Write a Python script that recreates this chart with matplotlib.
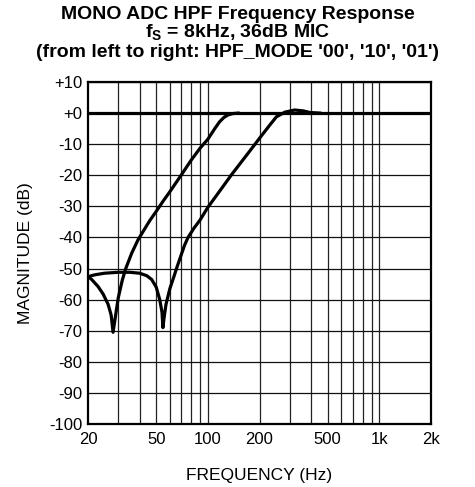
import matplotlib
matplotlib.use("Agg")
import matplotlib.pyplot as plt
from matplotlib.ticker import FixedLocator, NullFormatter

plt.rcParams['font.family'] = ['Liberation Sans', 'DejaVu Sans']
plt.rcParams['mathtext.fontset'] = 'custom'
plt.rcParams['mathtext.rm'] = 'Liberation Sans'
plt.rcParams['mathtext.bf'] = 'Liberation Sans:bold'

# HPF_MODE '00'
freq_00 = [20, 21, 22.9, 24.5, 26.2, 27.3, 28, 28.8, 30, 31.7, 33.2, 36, 39.2,
           45.8, 50, 54.7, 60, 70, 80, 90, 100, 105, 110, 117, 124, 131, 140, 150]
mag_00 = [-52.6, -53.5, -55.8, -58.2, -61.5, -65, -70.5, -66, -59.5, -53.7, -50, -45,
          -40.7, -34.6, -31.6, -28.4, -25.3, -19.9, -15.1, -11.3, -8.4, -6.6, -4.9, -2.8,
          -1.4, -0.6, -0.15, 0]
# HPF_MODE '10'
freq_10 = [20, 22, 25, 30, 35, 40, 44, 47, 50, 52.4, 54, 54.7, 55.5, 57, 60, 63.2,
           66, 70, 73, 76.6, 83, 90, 100, 120, 137, 170, 200, 230, 251, 281, 321,
           360, 393, 450]
mag_10 = [-52.6, -52.0, -51.5, -51.2, -51.2, -51.5, -52.3, -53.5, -56, -60, -64, -69,
          -66, -61.5, -56.5, -52.8, -49.6, -45.5, -42.6, -40, -37, -34.4, -30.3, -24.3,
          -19.9, -13.2, -8.1, -3.8, -1.2, 0.3, 1.0, 0.7, 0.2, 0]
# HPF_MODE '01' (flat)
freq_01 = [20, 2000]
mag_01 = [0, 0]

xticks = [20, 50, 100, 200, 500, 1000, 2000]
xticklabels = ['20', '50', '100', '200', '500', '1k', '2k']
yticks = [10, 0, -10, -20, -30, -40, -50, -60, -70, -80, -90, -100]
yticklabels = ['+10', '+0', '-10', '-20', '-30', '-40', '-50', '-60', '-70', '-80', '-90', '-100']
xgrid = [30, 40, 50, 60, 70, 80, 90, 100, 200, 300, 400, 500, 600, 700, 800, 900, 1000]

fig = plt.figure(figsize=(4.75, 4.87), dpi=100)
ax = fig.add_axes([88/475, (487-424)/487, (431-88)/475, (424-82)/487])

ax.set_xscale('log')
ax.set_xlim(20, 2000)
ax.set_ylim(-100, 10)

for g in xgrid:
    ax.axvline(g, color='#222222', lw=0.9, zorder=1)
for y in yticks:
    ax.axhline(y, color='#111111', lw=0.9, zorder=1)

lw = 2.3
ax.plot(freq_01, mag_01, color='black', lw=lw, zorder=3, solid_capstyle='butt')
ax.plot(freq_00, mag_00, color='black', lw=lw, zorder=3, solid_joinstyle='round')
ax.plot(freq_10, mag_10, color='black', lw=lw, zorder=3, solid_joinstyle='round')

ax.xaxis.set_major_locator(FixedLocator(xticks))
ax.xaxis.set_minor_locator(FixedLocator([]))
ax.xaxis.set_minor_formatter(NullFormatter())
ax.set_xticks(xticks)
ax.set_xticklabels(xticklabels, fontsize=12)
ax.set_yticks(yticks)
ax.set_yticklabels(yticklabels, fontsize=12)
ax.tick_params(axis='x', length=0, pad=6)
ax.tick_params(axis='y', length=0, pad=4)
for s in ax.spines.values():
    s.set_linewidth(1.6)
    s.set_zorder(4)

ax.set_xlabel('FREQUENCY (Hz)', fontsize=12.5, labelpad=15)
ax.set_ylabel('MAGNITUDE (dB)', fontsize=12.5, labelpad=12)

fig.text(0.5, 0.971, 'MONO ADC HPF Frequency Response', ha='center', va='center',
         fontsize=14, fontweight='bold')
fig.text(0.5, 0.932, r'f$_\mathbf{S}$ = 8kHz, 36dB MIC', ha='center', va='center',
         fontsize=14, fontweight='bold')
fig.text(0.5, 0.892, "(from left to right: HPF_MODE '00', '10', '01')", ha='center', va='center',
         fontsize=14, fontweight='bold')

fig.savefig('out.png', dpi=100)
